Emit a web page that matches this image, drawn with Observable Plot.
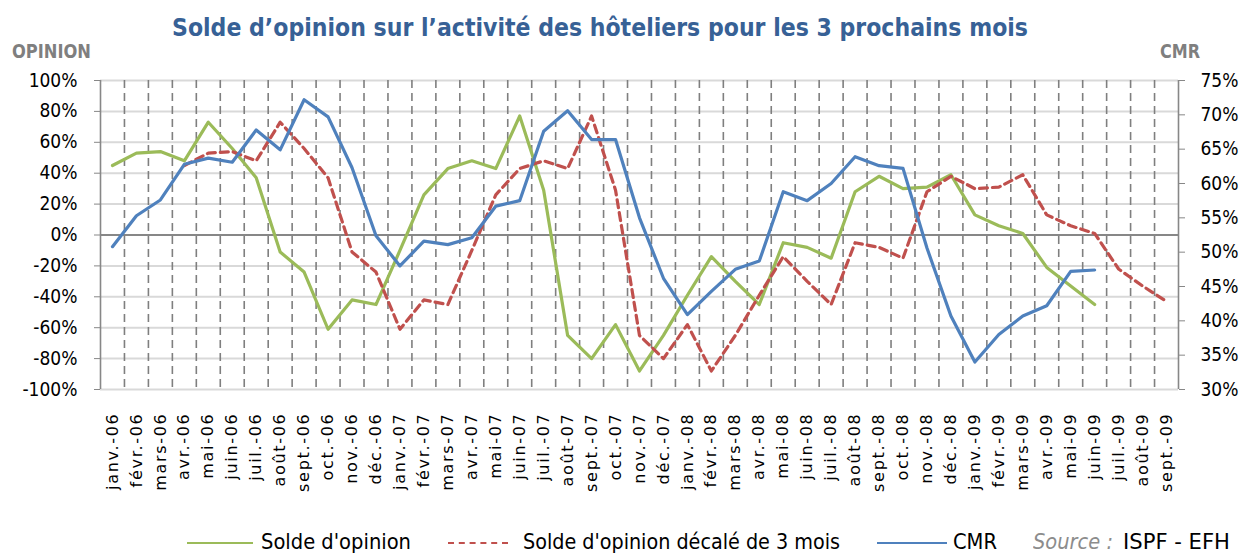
<!DOCTYPE html>
<html><head><meta charset="utf-8">
<script src="https://cdn.jsdelivr.net/npm/d3@7"></script>
<script src="https://cdn.jsdelivr.net/npm/@observablehq/plot@0.6"></script>
<style>
body{margin:0;background:#fff;}
#wrap{position:relative;width:1240px;height:556px;overflow:hidden;font-family:"DejaVu Sans",sans-serif;background:#fff;}
#chart{position:absolute;left:0;top:0;}
.t{position:absolute;white-space:nowrap;line-height:1;transform-origin:0 0;}
.lg{position:absolute;height:0;}
#chart g[aria-label="x-axis tick label"] text{letter-spacing:1.7px;}
</style></head><body>
<div id="wrap">
  <div id="chart"></div>
  <div class="t" id="title" style="font-weight:bold;font-size:25px;color:#376196;top:15px;left:172px" data-w="856">Solde d’opinion sur l’activité des hôteliers pour les 3 prochains mois</div>
  <div class="t" style="font-weight:bold;font-size:19px;color:#7f7f7f;top:42px;left:12px" data-w="79">OPINION</div>
  <div class="t" style="font-weight:bold;font-size:19px;color:#7f7f7f;top:42px;left:1160px" data-w="40">CMR</div>
  <div class="lg" style="left:187px;width:66px;top:542px;border-top:2px solid #9bbb59"></div>
  <div class="t" style="font-size:22px;top:531px;left:261px" data-w="150">Solde d'opinion</div>
  <div class="lg" style="left:448px;width:60px;top:542px;border-top:2px dashed #c0504d"></div>
  <div class="t" style="font-size:22px;top:531px;left:523px" data-w="317">Solde d'opinion décalé de 3 mois</div>
  <div class="lg" style="left:877px;width:70px;top:542px;border-top:2px solid #4f81bd"></div>
  <div class="t" style="font-size:22px;top:531px;left:953px" data-w="44">CMR</div>
  <div class="t" style="font-size:22px;font-style:italic;color:#8c8c8c;top:531px;left:1033px" data-w="80">Source :</div>
  <div class="t" style="font-size:22px;top:531px;left:1123px" data-w="107">ISPF - EFH</div>
</div>
<script>
const months = ["janv.-06","févr.-06","mars-06","avr.-06","mai-06","juin-06","juil.-06","août-06","sept.-06","oct.-06","nov.-06","déc.-06",
  "janv.-07","févr.-07","mars-07","avr.-07","mai-07","juin-07","juil.-07","août-07","sept.-07","oct.-07","nov.-07","déc.-07",
  "janv.-08","févr.-08","mars-08","avr.-08","mai-08","juin-08","juil.-08","août-08","sept.-08","oct.-08","nov.-08","déc.-08",
  "janv.-09","févr.-09","mars-09","avr.-09","mai-09","juin-09","juil.-09","août-09","sept.-09"];
// Solde d'opinion (%), janv.-06 .. juin-09
const solde = [45,53,54,48,73,56,37,-11,-24,-61,-42,-45,-10,26,43,48,43,77,29,-65,-80,-58,-88,-65,-39,-14,-30,-45,-5,-8,-15,28,38,30,31,39,13,6,1,-21,-33,-45];
// Solde d'opinion décalé de 3 mois (%), avr.-06 .. sept.-09
const soldeDecale = [45,53,54,48,73,56,37,-11,-24,-61,-42,-45,-10,26,43,48,43,77,29,-65,-80,-58,-88,-65,-39,-14,-30,-45,-5,-8,-15,28,38,30,31,39,13,6,1,-22,-33,-43];
const decaleStart = 3;
// CMR (%), janv.-06 .. juin-09
const cmr = [50.8,55.3,57.6,62.8,63.7,63.1,67.8,64.9,72.2,69.7,62.3,52.4,48.0,51.6,51.1,52.1,56.7,57.5,67.6,70.6,66.4,66.4,55.0,46.2,40.9,44.3,47.5,48.7,58.8,57.5,60.0,63.9,62.6,62.2,50.6,40.7,34.0,38.0,40.7,42.2,47.2,47.4];
const opinionTicks = [-100,-80,-60,-40,-20,0,20,40,60,80,100];
const cmrTicks = [30,35,40,45,50,55,60,65,70,75];

const cmrToOpinion = d3.scaleLinear([30,75],[-100,100]);
const soldeData = solde.map((v,i)=>({i, v}));
const decaleData = soldeDecale.map((v,k)=>({i:k+decaleStart, v}));
const cmrData = cmr.map((v,i)=>({i, v}));
const boundaries = months.slice(1).map((m,k)=>k+0.5);
const idx = months.map((m,i)=>i);
const axisFont = "'DejaVu Sans Condensed','DejaVu Sans',sans-serif";

const chart = Plot.plot({
  width:1240, height:500,
  marginTop:80, marginBottom:111, marginLeft:100, marginRight:62,
  style:{fontFamily:axisFont, background:"transparent", color:"#000"},
  x:{domain:[-0.5, months.length-0.5], axis:null},
  y:{domain:[-100,100], axis:null},
  marks:[
    Plot.gridY(opinionTicks, {stroke:"#d9d9d9", strokeOpacity:1, strokeWidth:2}),
    Plot.ruleX(boundaries, {stroke:"#7f7f7f", strokeWidth:1.6, strokeDasharray:"8,5"}),
    Plot.ruleY([0], {stroke:"#878787", strokeWidth:1.8}),
    Plot.ruleX([-0.5], {stroke:"#878787", strokeWidth:1.6}),
    Plot.ruleX([months.length-0.5], {stroke:"#878787", strokeWidth:1.6}),
    Plot.axisY({anchor:"left", label:null, ticks:opinionTicks, tickFormat:d=>d+"%", tickSize:6, tickPadding:17, stroke:"#878787", fontSize:19, fill:"#000", fontFamily:axisFont}),
    Plot.axisY({anchor:"right", label:null, ticks:cmrTicks.map(c=>cmrToOpinion(c)), tickFormat:d=>Math.round(cmrToOpinion.invert(d))+"%", tickSize:6, tickPadding:16, stroke:"#878787", fontSize:19, fill:"#000", fontFamily:axisFont}),
    Plot.axisX({label:null, ticks:idx, tickFormat:i=>months[i], tickRotate:-90, tickSize:0, tickPadding:23, fontSize:16, fill:"#000", fontFamily:"'DejaVu Sans',sans-serif"}),
    Plot.line(soldeData, {x:"i", y:"v", stroke:"#9bbb59", strokeWidth:3.2}),
    Plot.line(decaleData, {x:"i", y:"v", stroke:"#c0504d", strokeWidth:3.2, strokeDasharray:"8,5"}),
    Plot.line(cmrData, {x:"i", y:d=>cmrToOpinion(d.v), stroke:"#4f81bd", strokeWidth:3.2})
  ]
});
document.getElementById("chart").appendChild(chart);

document.querySelectorAll(".t[data-w]").forEach(el=>{
  const w = el.getBoundingClientRect().width;
  el.style.transform = `scaleX(${(+el.dataset.w)/w})`;
});
</script>
</body></html>
